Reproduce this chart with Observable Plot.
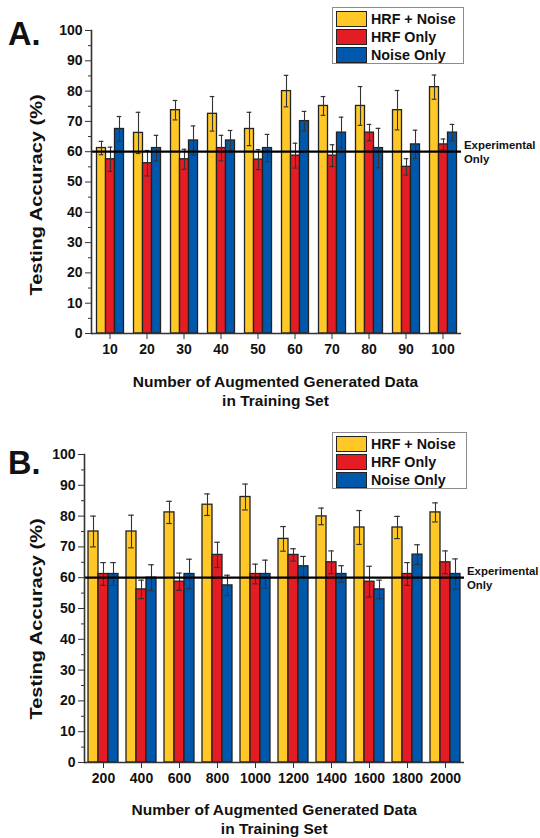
<!DOCTYPE html>
<html>
<head>
<meta charset="utf-8">
<script src="https://cdn.jsdelivr.net/npm/d3@7"></script>
<script src="https://cdn.jsdelivr.net/npm/@observablehq/plot@0.6"></script>
<style>
  html, body { margin: 0; padding: 0; background: #fff; }
  body { font-family: "Liberation Sans", Arial, Helvetica, sans-serif; font-weight: bold; color: #111; }
  #page { position: relative; width: 540px; height: 838px; overflow: hidden; }
  .panel { position: absolute; left: 0; width: 540px; height: 419px; }
  .panel svg { position: absolute; left: 0; top: 0; overflow: visible; }
  .letter { position: absolute; font-size: 32.5px; line-height: 1; }
  .legend { position: absolute; border: 1px solid #8c8c8c; background: #fff; box-sizing: border-box; }
  .legend .row { position: absolute; left: 3px; height: 18px; display: flex; align-items: center; }
  .legend .sw { width: 31px; height: 16px; border: 1px solid #222; box-sizing: border-box; margin-right: 4px; }
  .legend .lab { font-size: 14.3px; line-height: 18px; white-space: nowrap; }
  .ytitle { position: absolute; font-size: 20px; white-space: nowrap; line-height: 1;
            transform: translate(-50%, -50%) rotate(-90deg) scaleY(0.78); }
  .xtitle { position: absolute; font-size: 15.5px; line-height: 19px; text-align: center; width: 400px;
            transform: translateX(-50%); }
</style>
</head>
<body>
<div id="page"></div>
<script>
// Series shown in both panels
const seriesNames = ["HRF + Noise", "HRF Only", "Noise Only"];
const seriesColors = ["#FFC826", "#E41C24", "#0058AC"];

// Panel A: 10–100 augmented samples
const groupsA = [10, 20, 30, 40, 50, 60, 70, 80, 90, 100];
const hrfNoiseA = [61.2, 66.2, 73.7, 72.5, 67.5, 80.0, 75.1, 75.1, 73.7, 81.3];
const hrfNoiseErrA = [2.2, 6.8, 3.2, 5.7, 5.5, 5.2, 3.1, 6.4, 6.5, 4.0];
const hrfOnlyA = [57.5, 56.2, 57.5, 61.2, 57.4, 58.7, 58.7, 66.3, 55.0, 62.4];
const hrfOnlyErrA = [4.0, 4.2, 3.3, 4.2, 3.3, 4.1, 3.6, 2.7, 2.7, 1.8];
const noiseOnlyA = [67.5, 61.2, 63.7, 63.7, 61.2, 70.1, 66.3, 61.2, 62.4, 66.3];
const noiseOnlyErrA = [4.1, 4.2, 4.8, 3.3, 4.5, 3.2, 5.1, 6.5, 4.7, 2.7];

// Panel B: 200–2000 augmented samples
const groupsB = [200, 400, 600, 800, 1000, 1200, 1400, 1600, 1800, 2000];
const hrfNoiseB = [75.0, 75.0, 81.2, 83.7, 86.2, 72.6, 79.9, 76.3, 76.3, 81.2];
const hrfNoiseErrB = [5.0, 5.3, 3.6, 3.5, 4.2, 4.0, 2.7, 5.5, 3.6, 3.1];
const hrfOnlyB = [61.2, 56.2, 58.7, 67.4, 61.2, 67.4, 65.0, 58.7, 61.2, 65.0];
const hrfOnlyErrB = [3.7, 3.0, 2.8, 4.1, 3.2, 2.0, 3.7, 5.0, 3.7, 3.7];
const noiseOnlyB = [61.2, 60.0, 61.2, 57.5, 61.2, 63.7, 61.2, 56.2, 67.5, 61.2];
const noiseOnlyErrB = [3.7, 4.2, 4.8, 3.3, 4.5, 3.2, 2.7, 3.0, 3.2, 4.9];

// Baseline accuracy when training on experimental data only
const experimentalOnly = 60;
const experimentalLabel = "Experimental\nOnly";

const yTicks = [0, 10, 20, 30, 40, 50, 60, 70, 80, 90, 100];
const yMinorTicks = [5, 15, 25, 35, 45, 55, 65, 75, 85, 95];

const yTitle = "Testing Accuracy (%)";
const xTitle = "Number of Augmented Generated Data<br>in Training Set";

const FONT = '"Liberation Sans", Arial, Helvetica, sans-serif';

function toRows(groups, values, errors) {
  const rows = [];
  groups.forEach((g, i) => {
    seriesNames.forEach((s, j) => {
      rows.push({group: g, series: s, value: values[j][i], err: errors[j][i]});
    });
  });
  return rows;
}

function chart(groups, values, errors, m) {
  const data = toRows(groups, values, errors);
  const last = groups[groups.length - 1];
  return Plot.plot({
    width: 540,
    height: 419,
    marginTop: m.top,
    marginBottom: m.bottom,
    marginLeft: m.left,
    marginRight: m.right,
    style: {fontFamily: FONT, fontWeight: "bold", fontSize: "14px", color: "#111", background: "transparent", overflow: "visible"},
    fx: {domain: groups, padding: 0, label: null},
    x: {domain: seriesNames, paddingInner: 0, paddingOuter: 0.36, axis: null},
    y: {domain: [0, 100], label: null},
    color: {domain: seriesNames, range: seriesColors},
    marks: [
      Plot.barY(data, {fx: "group", x: "series", y: "value", fill: "series", stroke: "#222", strokeWidth: 1.3}),
      Plot.ruleX(data, {fx: "group", x: "series", y1: d => d.value - d.err, y2: d => d.value + d.err, stroke: "#333", strokeWidth: 1.1}),
      Plot.tickY(data, {fx: "group", x: "series", y: d => d.value - d.err, stroke: "#333", strokeWidth: 1.2, insetLeft: 2.2, insetRight: 2.2}),
      Plot.tickY(data, {fx: "group", x: "series", y: d => d.value + d.err, stroke: "#333", strokeWidth: 1.2, insetLeft: 2.2, insetRight: 2.2}),
      Plot.ruleY([experimentalOnly], {stroke: "#000", strokeWidth: 2.2}),
      Plot.ruleY([0], {stroke: "#333", strokeWidth: 1.6}),
      Plot.frame({anchor: "left", facetAnchor: "left", stroke: "#333", strokeWidth: 1.6}),
      Plot.axisY({ticks: yTicks, tickSize: 6, tickPadding: 3, label: null, stroke: "#333", fill: "#111", fontSize: 14, fontWeight: "bold"}),
      Plot.axisY({ticks: yMinorTicks, tickSize: 3, text: null, label: null, stroke: "#333"}),
      Plot.axisFx({anchor: "bottom", tickSize: 6, tickPadding: 5, tickFormat: d => String(d), label: null, stroke: "#333", fill: "#111", fontSize: 14, fontWeight: "bold"}),
      Plot.text([{group: last, y: experimentalOnly, label: experimentalLabel}], {
        fx: "group", y: "y", text: "label", frameAnchor: "right", dx: 2.5, textAnchor: "start",
        fontSize: 11.4, fontWeight: "bold", lineHeight: 1.2, fill: "#111"
      })
    ]
  });
}

function legend(panel, pos) {
  const box = document.createElement("div");
  box.className = "legend";
  Object.assign(box.style, {left: pos.left + "px", top: pos.top + "px", width: pos.width + "px", height: pos.height + "px"});
  seriesNames.forEach((s, i) => {
    const row = document.createElement("div");
    row.className = "row";
    row.style.top = (pos.rowTop + i * pos.rowStep) + "px";
    const sw = document.createElement("div");
    sw.className = "sw";
    sw.style.background = seriesColors[i];
    const lab = document.createElement("div");
    lab.className = "lab";
    lab.textContent = s;
    row.append(sw, lab);
    box.append(row);
  });
  panel.append(box);
}

function addText(panel, cls, html, left, top) {
  const el = document.createElement("div");
  el.className = cls;
  el.innerHTML = html;
  el.style.left = left + "px";
  el.style.top = top + "px";
  panel.append(el);
  return el;
}

function buildPanel(top, letter, groups, values, errors, cfg) {
  const panel = document.createElement("div");
  panel.className = "panel";
  panel.style.top = top + "px";
  panel.append(chart(groups, values, errors, cfg.margin));
  addText(panel, "letter", letter, 8, cfg.letterTop);
  legend(panel, cfg.legend);
  addText(panel, "ytitle", yTitle, 37, cfg.yTitleCenter);
  const plotCenter = cfg.margin.left + (540 - cfg.margin.left - cfg.margin.right) / 2;
  addText(panel, "xtitle", xTitle, plotCenter, cfg.xTitleTop);
  document.getElementById("page").append(panel);
}

buildPanel(0, "A.", groupsA,
  [hrfNoiseA, hrfOnlyA, noiseOnlyA],
  [hrfNoiseErrA, hrfOnlyErrA, noiseOnlyErrA],
  {
    margin: {top: 30, bottom: 86, left: 86.5, right: 75.5},
    letterTop: 17.8,
    legend: {left: 332, top: 7, width: 132, height: 57, rowTop: 2, rowStep: 18},
    yTitleCenter: 195,
    xTitleTop: 372
  });

buildPanel(419, "B.", groupsB,
  [hrfNoiseB, hrfOnlyB, noiseOnlyB],
  [hrfNoiseErrB, hrfOnlyErrB, noiseOnlyErrB],
  {
    margin: {top: 35, bottom: 76, left: 84, right: 75.5},
    letterTop: 27.5,
    legend: {left: 332, top: 12.5, width: 135, height: 57, rowTop: 2, rowStep: 18},
    yTitleCenter: 200,
    xTitleTop: 381
  });
</script>
</body>
</html>
